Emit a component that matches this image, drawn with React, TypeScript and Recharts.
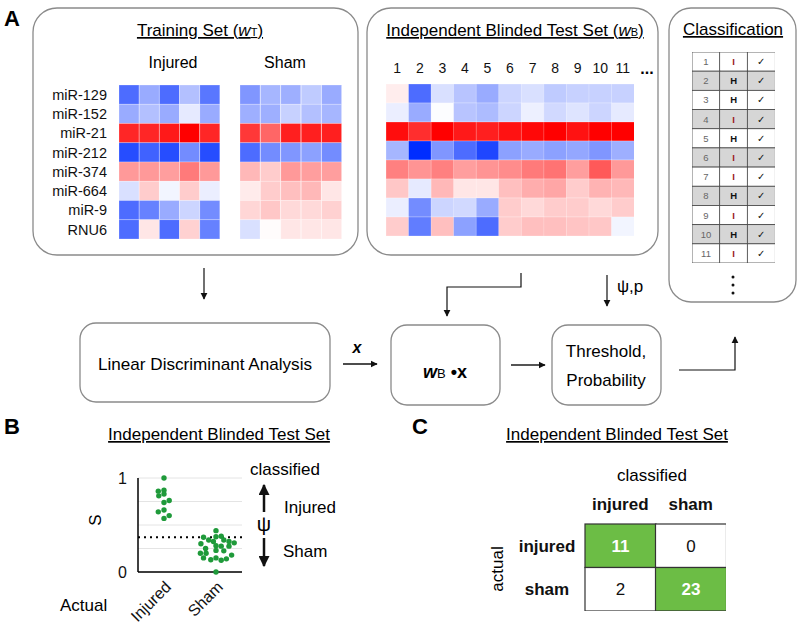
import React from 'react';
import { BarChart, Bar, XAxis, YAxis, ScatterChart, Scatter, CartesianGrid, ReferenceLine } from 'recharts';

const FONT = '"Liberation Sans", Arial, Helvetica, sans-serif';

// rows of every heatmap
const genes = ['miR-129', 'miR-152', 'miR-21', 'miR-212', 'miR-374', 'miR-664', 'miR-9', 'RNU6'];

// relative expression, -1 = deep blue, +1 = deep red (rows = genes, cols = samples)
const trainInjured = [
  [-0.7, -0.4, -0.7, -0.3, -0.65],
  [-0.4, -0.3, -0.4, -0.1, -0.4],
  [0.85, 0.85, 0.9, 1.0, 0.85],
  [-0.85, -0.75, -0.85, -0.55, -0.85],
  [0.4, 0.4, 0.38, 0.52, 0.4],
  [-0.15, 0.2, -0.05, 0.2, -0.08],
  [-0.7, -0.6, -0.4, -0.2, -0.55],
  [-0.7, 0.1, -0.7, 0.18, -0.6],
];
const trainSham = [
  [-0.5, -0.35, -0.38, -0.25, -0.4],
  [-0.38, -0.38, -0.22, -0.3, -0.35],
  [0.78, 0.6, 0.88, 0.88, 0.88],
  [-0.7, -0.55, -0.5, -0.45, -0.55],
  [0.28, 0.2, 0.4, 0.38, 0.38],
  [0.08, 0.2, 0.25, 0.28, 0.1],
  [0.16, 0.22, 0.15, 0.15, 0.18],
  [-0.15, 0.01, 0.1, 0.1, 0.1],
];
const blindedIds = ['1', '2', '3', '4', '5', '6', '7', '8', '9', '10', '11'];
const blinded = [
  [0.07, -0.7, -0.15, -0.28, -0.4, -0.2, -0.15, -0.25, -0.22, -0.22, -0.22],
  [-0.08, -0.4, -0.01, -0.28, -0.32, -0.2, -0.07, -0.18, -0.13, -0.2, -0.1],
  [0.95, 0.82, 1.0, 0.9, 0.88, 0.93, 0.97, 1.0, 0.93, 1.0, 1.0],
  [-0.35, -1.0, -0.5, -0.7, -0.88, -0.45, -0.4, -0.45, -0.42, -0.5, -0.38],
  [0.5, 0.42, 0.5, 0.38, 0.42, 0.45, 0.52, 0.55, 0.38, 0.65, 0.4],
  [0.22, -0.1, 0.28, 0.1, 0.1, 0.25, 0.32, 0.35, 0.2, 0.3, 0.28],
  [-0.08, -0.55, -0.2, -0.18, -0.4, 0.2, 0.15, 0.2, 0.2, 0.15, 0.2],
  [0.2, -0.62, 0.25, -0.45, -0.7, 0.2, 0.25, 0.25, 0.23, 0.22, -0.05],
];

// classification table
const caseCalls = ['I', 'H', 'H', 'I', 'H', 'I', 'I', 'H', 'I', 'H', 'I'];
const caseChecks = ['✓', '✓', '✓', '✓', '✓', '✓', '✓', '✓', '✓', '✓', '✓'];

// panel B: score S per blinded animal, with horizontal swarm offset
const injuredS = [1.0, 0.86, 0.87, 0.81, 0.83, 0.74, 0.76, 0.64, 0.66, 0.57, 0.6];
const injuredJitter = [0, -0.11, 0, -0.1, 0, 0, 0.1, -0.11, 0, 0, 0.1];
const shamS = [0.44, 0.37, 0.34, 0.375, 0.38, 0.3, 0.325, 0.34, 0.325, 0.31, 0.25, 0.28, 0.275, 0.275,
  0.2, 0.2, 0.23, 0.225, 0.18, 0.15, 0.13, 0.15, 0.125, 0.14, 0.0];
const shamJitter = [0, -0.24, -0.14, 0, 0.1, -0.29, -0.05, 0.15, 0.25, 0.35, -0.2, 0, 0.1, 0.25,
  -0.3, -0.19, 0, 0.15, 0.3, -0.24, -0.1, 0, 0.1, 0.2, 0];
const psi = 0.37;
const actualGroups = ['Injured', 'Sham'];

// panel C confusion matrix
const matClasses = ['injured', 'sham'];
const matActualInjured = [11, 0];
const matActualSham = [2, 23];

const GREEN = '#6cbd45';

const heat = (v: number) => {
  if (v >= 0) {
    const t = Math.min(v, 1);
    const c = Math.round(255 * (1 - t));
    return `rgb(255,${c},${c})`;
  }
  const t = Math.min(-v, 1);
  return `rgb(${Math.round(255 * (1 - t))},${Math.round(255 - 210 * t)},255)`;
};

// bars on a reversed axis come with a negative height
const box = (p: any) => ({
  x: Math.min(p.x, p.x + p.width),
  y: Math.min(p.y, p.y + p.height),
  w: Math.abs(p.width),
  h: Math.abs(p.height),
});

const toColumns = (m: number[][], ids: string[]) =>
  m[0].map((_, c) => {
    const o: any = { col: ids[c] };
    m.forEach((row, r) => {
      o['g' + r] = row[c];
      o['h' + r] = 1;
    });
    return o;
  });

const Heatmap = ({ matrix, left, top, width, height, labels, ids, topAxis }: any) => {
  const data = toColumns(matrix, ids || matrix[0].map((_: any, i: number) => String(i + 1)));
  return (
    <div style={{ position: 'absolute', left, top }}>
      <BarChart width={width} height={height} data={data} margin={{ top: 0, right: 0, bottom: 0, left: 0 }} barCategoryGap={0}>
        <XAxis
          dataKey="col"
          orientation="top"
          hide={!topAxis}
          height={30}
          axisLine={false}
          tickLine={false}
          tickSize={9}
          interval={0}
          tick={{ fontSize: 14, fill: '#111', fontFamily: FONT }}
        />
        <YAxis
          type="number"
          domain={[0, 8]}
          reversed
          hide={!labels}
          width={79}
          ticks={[0.5, 1.5, 2.5, 3.5, 4.5, 5.5, 6.5, 7.5]}
          tickFormatter={(v: number) => genes[Math.floor(v)]}
          axisLine={false}
          tickLine={false}
          tickSize={10}
          interval={0}
          tick={{ fontSize: 14.5, fill: '#111', fontFamily: FONT }}
        />
        {genes.map((g, r) => (
          <Bar
            key={g}
            dataKey={'h' + r}
            stackId="s"
            isAnimationActive={false}
            shape={(p: any) => {
              const b = box(p);
              return (
                <rect x={b.x} y={b.y} width={b.w} height={b.h} fill={heat(p.payload['g' + r])}
                  stroke="#ffffff" strokeOpacity={0.35} strokeWidth={0.7} />
              );
            }}
          />
        ))}
      </BarChart>
    </div>
  );
};

const ClassTable = () => {
  const cols = [blindedIds, caseCalls, caseChecks];
  const data = ['id', 'call', 'ok'].map((k, c) => {
    const o: any = { col: k };
    blindedIds.forEach((_, r) => {
      o['t' + r] = cols[c][r];
      o['h' + r] = 1;
    });
    return o;
  });
  return (
    <div style={{ position: 'absolute', left: 692, top: 52 }}>
      <BarChart width={83} height={211} data={data} margin={{ top: 0, right: 0, bottom: 0, left: 0 }} barCategoryGap={0}>
        <XAxis dataKey="col" hide />
        <YAxis type="number" domain={[0, 11]} reversed hide />
        {blindedIds.map((id, r) => (
          <Bar
            key={id}
            dataKey={'h' + r}
            stackId="t"
            isAnimationActive={false}
            shape={(p: any) => {
              const b = box(p);
              const col = p.payload.col;
              const val = p.payload['t' + r];
              const color = col === 'id' ? '#666' : val === 'I' ? '#9b1c1c' : '#111';
              return (
                <g>
                  <rect x={b.x} y={b.y} width={b.w} height={b.h} fill={r % 2 ? '#d6d6d6' : '#ffffff'}
                    stroke="#444" strokeWidth={0.8} />
                  <text x={b.x + b.w / 2} y={b.y + b.h / 2 + 3.5} textAnchor="middle" fontSize={9.5}
                    fontFamily={FONT} fontWeight={col === 'call' ? 700 : 400} fill={color}>{val}</text>
                </g>
              );
            }}
          />
        ))}
      </BarChart>
    </div>
  );
};

const ScorePlot = () => {
  const inj = injuredS.map((s, i) => ({ x: 1 + injuredJitter[i], y: s }));
  const sham = shamS.map((s, i) => ({ x: 2 + shamJitter[i], y: s }));
  const dot = (p: any) => <circle cx={p.cx} cy={p.cy} r={2.7} fill="#1f9a3a" />;
  return (
    <div style={{ position: 'absolute', left: 100, top: 470 }}>
      <ScatterChart width={142} height={160} margin={{ top: 8, right: 0, bottom: 0, left: 0 }}>
        <CartesianGrid vertical={false} stroke="#e4e4e4" />
        <XAxis
          type="number"
          dataKey="x"
          domain={[0.5, 2.5]}
          ticks={[1, 2]}
          interval={0}
          tickFormatter={(v: number) => actualGroups[v - 1]}
          angle={-45}
          textAnchor="end"
          height={58}
          tickLine={false}
          axisLine={{ stroke: '#000', strokeWidth: 1.5 }}
          tick={{ fontSize: 16, fill: '#111', fontFamily: FONT }}
        />
        <YAxis
          type="number"
          dataKey="y"
          domain={[0, 1]}
          ticks={[0, 0.25, 0.5, 0.75, 1]}
          interval={0}
          tickFormatter={(v: number) => (v === 0 ? '0' : v === 1 ? '1' : '')}
          width={38}
          tickLine={false}
          tickSize={9}
          axisLine={{ stroke: '#000', strokeWidth: 1.5 }}
          tick={{ fontSize: 16, fill: '#111', fontFamily: FONT }}
        />
        <ReferenceLine y={psi} stroke="#000" strokeWidth={2} strokeDasharray="2 4" />
        <Scatter data={inj} isAnimationActive={false} shape={dot} />
        <Scatter data={sham} isAnimationActive={false} shape={dot} />
      </ScatterChart>
    </div>
  );
};

const Confusion = () => {
  const data = matClasses.map((c, i) => ({ cls: c, r0: matActualInjured[i], r1: matActualSham[i], h0: 1, h1: 1 }));
  return (
    <div style={{ position: 'absolute', left: 510, top: 494 }}>
      <BarChart width={216} height={117} data={data} margin={{ top: 0, right: 0, bottom: 0, left: 0 }} barCategoryGap={0}>
        <XAxis
          dataKey="cls"
          orientation="top"
          height={30}
          axisLine={false}
          tickLine={false}
          tickSize={12}
          interval={0}
          tick={(p: any) => (
            <text x={p.x} y={p.y} textAnchor="middle" fontSize={17} fontWeight={700} fill="#111" fontFamily={FONT}>
              {p.payload.value}
            </text>
          )}
        />
        <YAxis
          type="number"
          domain={[0, 2]}
          reversed
          width={75}
          ticks={[0.5, 1.5]}
          interval={0}
          axisLine={false}
          tickLine={false}
          tick={(p: any) => (
            <text x={37} y={p.y + 6} textAnchor="middle" fontSize={17} fontWeight={700} fill="#111" fontFamily={FONT}>
              {matClasses[Math.floor(p.payload.value)]}
            </text>
          )}
        />
        {[0, 1].map((r) => (
          <Bar
            key={r}
            dataKey={'h' + r}
            stackId="m"
            isAnimationActive={false}
            shape={(p: any) => {
              const b = box(p);
              const diag = p.index === r;
              return (
                <g>
                  <rect x={b.x} y={b.y} width={b.w} height={b.h} fill={diag ? GREEN : '#fff'}
                    stroke="#333" strokeWidth={1.2} />
                  <text x={b.x + b.w / 2} y={b.y + b.h / 2 + 6} textAnchor="middle" fontSize={17}
                    fontWeight={diag ? 700 : 400} fill={diag ? '#fff' : '#111'} fontFamily={FONT}>
                    {p.payload['r' + r]}
                  </text>
                </g>
              );
            }}
          />
        ))}
      </BarChart>
    </div>
  );
};

const Overlay = () => (
  <svg width={800} height={630} style={{ position: 'absolute', left: 0, top: 0 }} fontFamily={FONT}>
    <defs>
      <marker id="ah" viewBox="0 0 10 10" refX="9" refY="5" markerWidth="7" markerHeight="8" orient="auto" markerUnits="userSpaceOnUse">
        <path d="M0,0 L10,5 L0,10 z" fill="#111" />
      </marker>
      <marker id="ahBig" viewBox="0 0 10 10" refX="9" refY="5" markerWidth="11" markerHeight="11" orient="auto" markerUnits="userSpaceOnUse">
        <path d="M0,0 L10,5 L0,10 z" fill="#111" />
      </marker>
    </defs>

    <text x={4} y={26} fontSize={22} fontWeight={700}>A</text>
    <text x={4} y={434} fontSize={22} fontWeight={700}>B</text>
    <text x={412} y={434} fontSize={22} fontWeight={700}>C</text>

    <rect x={33} y={8} width={325} height={247} rx={24} fill="none" stroke="#8a8a8a" strokeWidth={1.3} />
    <rect x={367} y={8} width={291} height={247} rx={24} fill="none" stroke="#8a8a8a" strokeWidth={1.3} />
    <rect x={669} y={8} width={127} height={294} rx={22} fill="none" stroke="#8a8a8a" strokeWidth={1.3} />

    <text x={200} y={36} textAnchor="middle" fontSize={17} style={{ textDecoration: 'underline' }}>
      Training Set (<tspan fontStyle="italic">w</tspan><tspan fontSize={11}>T</tspan>)
    </text>
    <text x={173} y={68} textAnchor="middle" fontSize={16}>Injured</text>
    <text x={285} y={68} textAnchor="middle" fontSize={16}>Sham</text>

    <text x={515} y={36} textAnchor="middle" fontSize={17} style={{ textDecoration: 'underline' }}>
      Independent Blinded Test Set (<tspan fontStyle="italic">w</tspan><tspan fontSize={11}>B</tspan>)
    </text>
    <text x={647} y={74} textAnchor="middle" fontSize={16} fontWeight={700}>...</text>

    <text x={733} y={35} textAnchor="middle" fontSize={17} style={{ textDecoration: 'underline' }}>Classification</text>
    <circle cx={733} cy={277} r={1.5} fill="#111" />
    <circle cx={733} cy={285} r={1.5} fill="#111" />
    <circle cx={733} cy={293} r={1.5} fill="#111" />

    {/* flow */}
    <line x1={204} y1={268} x2={204} y2={299} stroke="#111" strokeWidth={1.2} markerEnd="url(#ah)" />
    <polyline points="521,273 521,287 447,287 447,316" fill="none" stroke="#111" strokeWidth={1.2} markerEnd="url(#ah)" />
    <line x1={607} y1={275} x2={607} y2={306} stroke="#111" strokeWidth={1.2} markerEnd="url(#ah)" />
    <text x={617} y={292} fontSize={17}>ψ,p</text>

    <rect x={80} y={323} width={250} height={79} rx={16} fill="none" stroke="#8a8a8a" strokeWidth={1.3} />
    <text x={205} y={370} textAnchor="middle" fontSize={17} textLength={214} lengthAdjust="spacingAndGlyphs">Linear Discriminant Analysis</text>
    <line x1={343} y1={364} x2={377} y2={364} stroke="#111" strokeWidth={1.5} markerEnd="url(#ah)" />
    <text x={357} y={353} textAnchor="middle" fontSize={16} fontStyle="italic" fontWeight={700}>x</text>

    <rect x={391} y={325} width={109} height={80} rx={16} fill="none" stroke="#8a8a8a" strokeWidth={1.3} />
    <text x={445} y={378} textAnchor="middle" fontSize={18}>
      <tspan fontStyle="italic" fontWeight={700}>w</tspan><tspan fontSize={13}>B</tspan><tspan fontWeight={700}> •x</tspan>
    </text>
    <line x1={511} y1={365} x2={545} y2={365} stroke="#555" strokeWidth={2} markerEnd="url(#ah)" />

    <rect x={552} y={325} width={109} height={80} rx={16} fill="none" stroke="#8a8a8a" strokeWidth={1.3} />
    <text x={606} y={357} textAnchor="middle" fontSize={17}>Threshold,</text>
    <text x={606} y={386} textAnchor="middle" fontSize={17}>Probability</text>
    <polyline points="679,370 735,370 735,337" fill="none" stroke="#111" strokeWidth={1.2} markerEnd="url(#ah)" />

    {/* panel B */}
    <text x={219} y={440} textAnchor="middle" fontSize={17} style={{ textDecoration: 'underline' }}>Independent Blinded Test Set</text>
    <text x={285} y={475} textAnchor="middle" fontSize={17}>classified</text>
    <line x1={264} y1={512} x2={264} y2={485} stroke="#111" strokeWidth={2.5} markerEnd="url(#ahBig)" />
    <text x={284} y={513} fontSize={17}>Injured</text>
    <text x={264} y={531} textAnchor="middle" fontSize={20}>ψ</text>
    <line x1={264} y1={538} x2={264} y2={566} stroke="#111" strokeWidth={2.5} markerEnd="url(#ahBig)" />
    <text x={283} y={557} fontSize={17}>Sham</text>
    <text x={101} y={520} textAnchor="middle" fontSize={17} transform="rotate(-90 101 520)">S</text>
    <text x={60} y={611} fontSize={17}>Actual</text>

    {/* panel C */}
    <text x={617} y={440} textAnchor="middle" fontSize={17} style={{ textDecoration: 'underline' }}>Independent Blinded Test Set</text>
    <text x={652} y={481} textAnchor="middle" fontSize={17}>classified</text>
    <text x={503} y={569} textAnchor="middle" fontSize={17} transform="rotate(-90 503 569)">actual</text>
  </svg>
);

export default function App() {
  return (
    <div style={{ position: 'absolute', left: 0, top: 0, width: 800, height: 630, background: '#fff', fontFamily: FONT, overflow: 'hidden' }}>
      <Overlay />
      <Heatmap matrix={trainInjured} left={40} top={85} width={180} height={154} labels />
      <Heatmap matrix={trainSham} left={240} top={85} width={102} height={154} />
      <Heatmap matrix={blinded} left={386} top={54} width={248} height={182} ids={blindedIds} topAxis />
      <ClassTable />
      <ScorePlot />
      <Confusion />
    </div>
  );
}
